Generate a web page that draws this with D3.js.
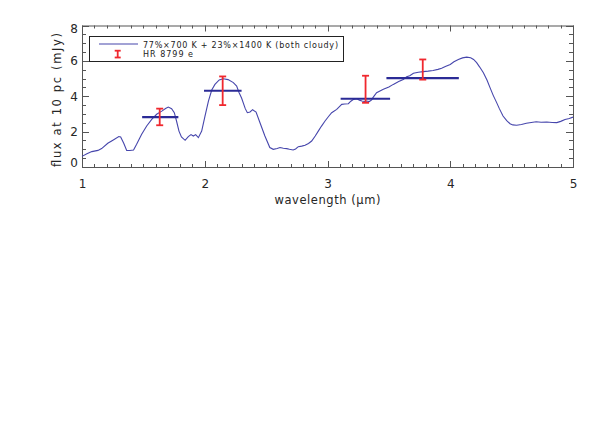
<!DOCTYPE html>
<html><head><meta charset="utf-8">
<script src="https://cdn.jsdelivr.net/npm/d3@7/dist/d3.min.js"></script>
<style>body{margin:0;background:#fff;} svg{display:block;}</style>
</head><body>
<script>
// Model spectrum (wavelength in µm, flux in mJy)
const wavelength = [1.00,1.04,1.08,1.13,1.16,1.21,1.255,1.30,1.315,1.34,1.364,1.39,1.42,1.445,1.486,1.527,1.568,1.608,1.65,1.684,1.703,1.73,1.752,1.77,1.79,1.81,1.84,1.866,1.888,1.907,1.926,1.948,1.975,2.002,2.03,2.057,2.083,2.118,2.151,2.19,2.233,2.26,2.28,2.30,2.33,2.347,2.369,2.39,2.418,2.45,2.49,2.53,2.558,2.59,2.613,2.64,2.668,2.69,2.72,2.74,2.762,2.79,2.817,2.845,2.871,2.90,2.925,2.95,2.98,3.01,3.034,3.075,3.116,3.14,3.17,3.19,3.21,3.24,3.26,3.28,3.30,3.32,3.34,3.36,3.37,3.40,3.455,3.50,3.536,3.58,3.617,3.645,3.67,3.70,3.74,3.78,3.82,3.86,3.90,3.93,3.96,4.00,4.03,4.066,4.10,4.134,4.166,4.19,4.215,4.24,4.27,4.30,4.324,4.35,4.378,4.40,4.43,4.46,4.487,4.51,4.54,4.58,4.62,4.66,4.70,4.74,4.786,4.83,4.868,4.90,4.935,4.97,5.00];
const flux = [0.60,0.75,0.87,0.94,1.04,1.34,1.53,1.72,1.70,1.34,0.94,0.93,0.96,1.28,1.85,2.32,2.69,2.98,3.16,3.32,3.39,3.30,3.07,2.60,2.03,1.70,1.51,1.72,1.83,1.75,1.83,1.66,2.03,2.88,3.73,4.35,4.67,4.92,4.99,4.94,4.77,4.58,4.20,3.90,3.30,3.07,3.11,3.24,3.10,2.50,1.75,1.10,1.00,1.05,1.10,1.06,1.04,1.00,0.96,1.02,1.15,1.18,1.23,1.33,1.47,1.75,2.03,2.30,2.60,2.87,3.07,3.26,3.54,3.56,3.58,3.72,3.82,3.86,3.78,3.73,3.70,3.73,3.70,3.79,3.92,4.20,4.39,4.52,4.67,4.83,4.95,5.10,5.16,5.30,5.36,5.39,5.42,5.46,5.52,5.58,5.68,5.80,5.95,6.08,6.17,6.21,6.18,6.08,5.90,5.65,5.33,4.90,4.49,4.05,3.64,3.30,2.88,2.62,2.45,2.38,2.36,2.40,2.47,2.52,2.56,2.53,2.54,2.52,2.51,2.58,2.69,2.74,2.82];

// Band-averaged model fluxes (horizontal bars)
const bandStart = [1.49, 1.994, 3.107, 3.48];
const bandEnd   = [1.785, 2.30, 3.51, 4.07];
const bandFlux  = [2.82, 4.31, 3.86, 5.02];

// HR 8799 e photometry (error bars)
const obsWave = [1.633, 2.146, 3.31, 3.776];
const obsLow  = [2.36, 3.50, 3.63, 4.94];
const obsHigh = [3.30, 5.12, 5.16, 6.08];

const xTicks = [1, 2, 3, 4, 5];
const yTicks = [0, 2, 4, 6, 8];
const legendLabels = ["77%\u00d7700 K + 23%\u00d71400 K (both cloudy)", "HR 8799 e"];

const W = 598, H = 441;
const L = 82, R = 573, T = 25.5, B = 167;
const svg = d3.select("body").append("svg").attr("width", W).attr("height", H);
const x = d3.scaleLinear().domain([1, 5]).range([L, R]);
const y = d3.scaleLinear().domain([0, 8]).range([B, T]);
const axisCol = "#555";
const font = "'DejaVu Sans', 'Liberation Sans', sans-serif";
const txtCol = "#262626";

// minor ticks
const xMinor = d3.range(1, 5.0001, 0.1).map(v => +v.toFixed(2));
const yMinor = d3.range(0, 8.0001, 0.5);
const tg = svg.append("g").attr("stroke", axisCol).attr("stroke-width", 1);
xMinor.forEach(v => {
  const major = Math.abs(v - Math.round(v)) < 1e-6;
  const len = major ? 6 : 3;
  const px = Math.round(x(v)) + 0.5;
  tg.append("line").attr("x1", px).attr("x2", px).attr("y1", B).attr("y2", B - len);
  tg.append("line").attr("x1", px).attr("x2", px).attr("y1", T).attr("y2", T + len);
});
yMinor.forEach(v => {
  const major = Math.abs(v / 2 - Math.round(v / 2)) < 1e-6;
  const len = major ? 7 : 4;
  const py = Math.round(y(v)) + 0.5;
  tg.append("line").attr("x1", L).attr("x2", L + len).attr("y1", py).attr("y2", py);
  tg.append("line").attr("x1", R).attr("x2", R - len).attr("y1", py).attr("y2", py);
});
svg.append("rect").attr("x", L + 0.5).attr("y", T + 0.5).attr("width", R - L).attr("height", B - T)
  .attr("fill", "none").attr("stroke", axisCol).attr("stroke-width", 1);

// tick labels via axes
const xAxis = svg.append("g").attr("transform", `translate(0,${B})`)
  .call(d3.axisBottom(x).tickValues(xTicks).tickFormat(d3.format("d")).tickSize(0).tickPadding(12));
xAxis.select(".domain").remove();
xAxis.selectAll("text").attr("font-family", font).attr("font-size", 12).attr("fill", txtCol);
const yAxis = svg.append("g").attr("transform", `translate(${L},0)`)
  .call(d3.axisLeft(y).tickValues(yTicks).tickFormat(d3.format("d")).tickSize(0).tickPadding(4));
yAxis.select(".domain").remove();
yAxis.selectAll("text").attr("font-family", font).attr("font-size", 12).attr("fill", txtCol)
  .attr("dy", d => d === 0 ? "-0.05em" : d === 8 ? "0.55em" : "0.32em");

// axis titles
svg.append("text").attr("x", (L + R) / 2).attr("y", 204).attr("text-anchor", "middle")
  .attr("font-family", font).attr("font-size", 11.5).attr("fill", txtCol)
  .attr("textLength", 106).attr("lengthAdjust", "spacing")
  .text("wavelength (\u03bcm)");
svg.append("text").attr("transform", `translate(61,100) rotate(-90)`)
  .attr("text-anchor", "middle").attr("font-family", font).attr("font-size", 11.5).attr("fill", txtCol)
  .attr("textLength", 134).attr("lengthAdjust", "spacing")
  .text("flux at 10 pc (mJy)");

// spectrum
const specCol = "#4646ac";
const specData = wavelength.map((w, i) => [w, flux[i]]);
svg.append("path").datum(specData)
  .attr("d", d3.line().x(d => x(d[0])).y(d => y(d[1])))
  .attr("fill", "none").attr("stroke", specCol).attr("stroke-width", 1.1);

// band-averaged bars
const barCol = "#2b2b96";
bandFlux.forEach((f, i) => {
  svg.append("line").attr("x1", x(bandStart[i])).attr("x2", x(bandEnd[i]))
    .attr("y1", y(f)).attr("y2", y(f)).attr("stroke", barCol).attr("stroke-width", 2.2);
});

// error bars
const redCol = "#f0282e";
obsWave.forEach((w, i) => {
  const g = svg.append("g").attr("stroke", redCol).attr("stroke-width", 1.8);
  g.append("line").attr("x1", x(w)).attr("x2", x(w)).attr("y1", y(obsLow[i])).attr("y2", y(obsHigh[i]));
  g.append("line").attr("x1", x(w) - 3.5).attr("x2", x(w) + 3.5).attr("y1", y(obsLow[i])).attr("y2", y(obsLow[i]));
  g.append("line").attr("x1", x(w) - 3.5).attr("x2", x(w) + 3.5).attr("y1", y(obsHigh[i])).attr("y2", y(obsHigh[i]));
});

// legend
const lg = svg.append("g");
lg.append("rect").attr("x", 89.5).attr("y", 36.5).attr("width", 254).attr("height", 25)
  .attr("fill", "#fff").attr("stroke", "#222").attr("stroke-width", 1);
lg.append("line").attr("x1", 99).attr("x2", 138).attr("y1", 44).attr("y2", 44)
  .attr("stroke", specCol).attr("stroke-width", 1.1);
const ig = lg.append("g").attr("stroke", redCol).attr("stroke-width", 1.8);
ig.append("line").attr("x1", 117.7).attr("x2", 117.7).attr("y1", 50.7).attr("y2", 57.5);
ig.append("line").attr("x1", 114.7).attr("x2", 120.7).attr("y1", 50.7).attr("y2", 50.7);
ig.append("line").attr("x1", 114.7).attr("x2", 120.7).attr("y1", 57.5).attr("y2", 57.5);
lg.append("text").attr("x", 143).attr("y", 47.5).attr("font-family", font).attr("font-size", 8)
  .attr("fill", "#222").attr("textLength", 195).attr("lengthAdjust", "spacing").text(legendLabels[0]);
lg.append("text").attr("x", 143).attr("y", 57).attr("font-family", font).attr("font-size", 8)
  .attr("fill", "#222").attr("textLength", 50).attr("lengthAdjust", "spacing").text(legendLabels[1]);
</script>
</body></html>
